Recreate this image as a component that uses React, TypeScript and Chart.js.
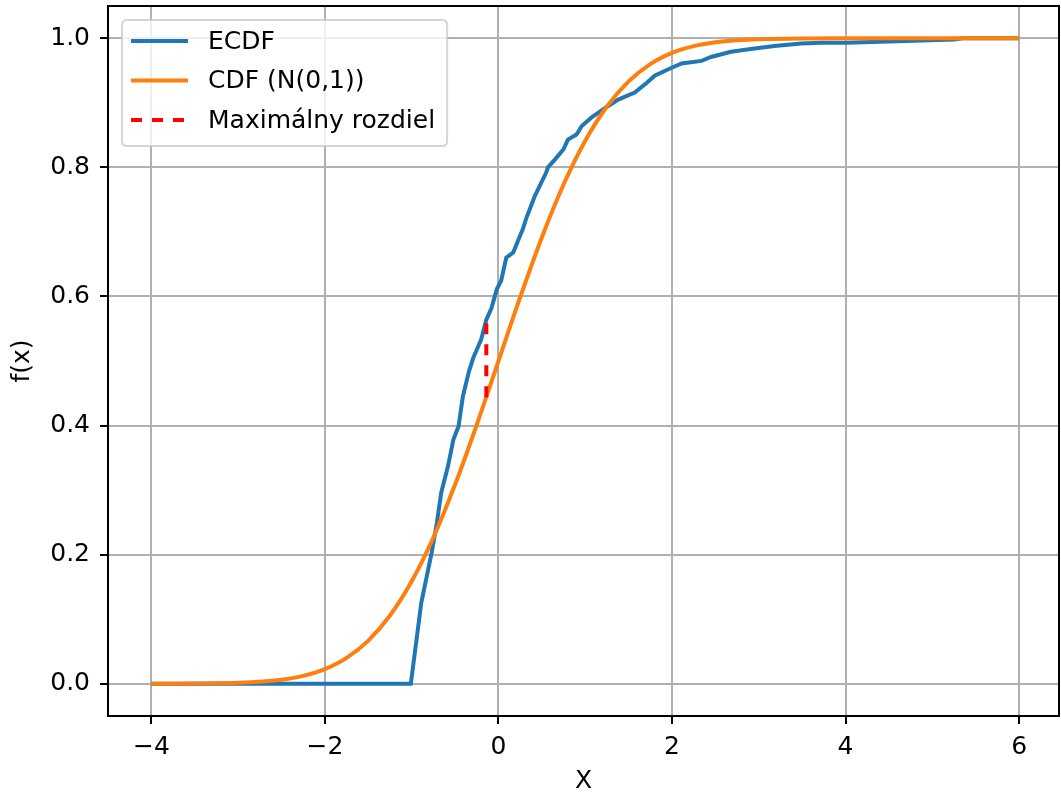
import React, { useEffect, useRef } from "react";
import { Chart, registerables } from "chart.js";

Chart.register(...registerables);

// ECDF of the sample
const ecdfX = [-4, -1.01, -0.89, -0.77, -0.71, -0.66, -0.58, -0.52, -0.46, -0.41, -0.34, -0.29, -0.2, -0.14, -0.08, -0.02, 0.03, 0.09, 0.17, 0.23, 0.28, 0.32, 0.42, 0.55, 0.57, 0.65, 0.75, 0.8, 0.9, 0.96, 1.07, 1.23, 1.38, 1.57, 1.71, 1.8, 1.99, 2.11, 2.34, 2.45, 2.68, 2.95, 3.18, 3.49, 3.72, 4.01, 4.79, 5.25, 5.35, 6];
const ecdfY = [0, 0, 0.125, 0.203, 0.249, 0.296, 0.338, 0.378, 0.399, 0.445, 0.484, 0.505, 0.533, 0.564, 0.582, 0.611, 0.624, 0.66, 0.668, 0.688, 0.704, 0.721, 0.756, 0.792, 0.8, 0.812, 0.828, 0.843, 0.851, 0.864, 0.877, 0.892, 0.905, 0.916, 0.931, 0.942, 0.954, 0.961, 0.965, 0.971, 0.979, 0.984, 0.988, 0.992, 0.993, 0.993, 0.996, 0.998, 1.0, 1.0];

// Normal CDF curve
const cdfX = [-4, -3.75, -3.5, -3.25, -3, -2.75, -2.5, -2.25, -2, -1.75, -1.5, -1.25, -1, -0.75, -0.5, -0.25, 0, 0.25, 0.5, 0.75, 1, 1.25, 1.5, 1.75, 2, 2.25, 2.5, 2.75, 3, 3.5, 4, 5, 6];
const cdfY = [0.00003, 0.00009, 0.00023, 0.00058, 0.00135, 0.00298, 0.00621, 0.01222, 0.02275, 0.04006, 0.06681, 0.10565, 0.15866, 0.22663, 0.30854, 0.40129, 0.5, 0.59871, 0.69146, 0.77337, 0.84134, 0.89435, 0.93319, 0.95994, 0.97725, 0.98778, 0.99379, 0.99702, 0.99865, 0.99977, 0.99997, 1.0, 1.0];

// Maximum difference segment
const diffX = [-0.14, -0.14];
const diffY = [0.444, 0.566];

const seriesLabels = ["ECDF", "CDF (N(0,1))", "Maximálny rozdiel"];
const xTicks = [-4, -2, 0, 2, 4, 6];
const yTicks = [0, 0.2, 0.4, 0.6, 0.8, 1.0];
const xTitle = "X";
const yTitle = "f(x)";

const FONT = "'DejaVu Sans', sans-serif";
const FS = 25;

const fmt = (v: number, d: number) => {
  const s = Math.abs(v).toFixed(d);
  return v < -1e-9 ? "\u2212" + s : s;
};

const toPts = (xs: number[], ys: number[]) => xs.map((x, i) => ({ x, y: ys[i] }));

const framePlugin = {
  id: "frame",
  afterDatasetsDraw(chart: any) {
    const { ctx, chartArea: a } = chart;
    ctx.save();
    ctx.strokeStyle = "#000";
    ctx.lineWidth = 2;
    ctx.strokeRect(a.left, a.top, a.right - a.left, a.bottom - a.top);
    ctx.restore();
  },
};

const legendPlugin = {
  id: "mplLegend",
  afterDraw(chart: any) {
    const { ctx, chartArea: a } = chart;
    const ds = chart.data.datasets;
    const x0 = a.left + 14;
    const y0 = a.top + 14;
    ctx.save();
    ctx.font = `${FS}px ${FONT}`;
    const maxW = Math.max(...ds.map((d: any) => ctx.measureText(d.label).width));
    const textX = x0 + 86;
    const w = textX - x0 + maxW + 12;
    const h = 126;
    const r = 5;
    ctx.beginPath();
    ctx.moveTo(x0 + r, y0);
    ctx.lineTo(x0 + w - r, y0);
    ctx.quadraticCurveTo(x0 + w, y0, x0 + w, y0 + r);
    ctx.lineTo(x0 + w, y0 + h - r);
    ctx.quadraticCurveTo(x0 + w, y0 + h, x0 + w - r, y0 + h);
    ctx.lineTo(x0 + r, y0 + h);
    ctx.quadraticCurveTo(x0, y0 + h, x0, y0 + h - r);
    ctx.lineTo(x0, y0 + r);
    ctx.quadraticCurveTo(x0, y0, x0 + r, y0);
    ctx.closePath();
    ctx.fillStyle = "rgba(255,255,255,0.8)";
    ctx.fill();
    ctx.strokeStyle = "rgba(204,204,204,0.8)";
    ctx.lineWidth = 2;
    ctx.stroke();
    ds.forEach((d: any, i: number) => {
      const y = y0 + 21 + i * 39.5;
      ctx.beginPath();
      ctx.setLineDash(d.borderDash || []);
      ctx.strokeStyle = d.borderColor;
      ctx.lineWidth = d.borderWidth;
      ctx.lineCap = "butt";
      ctx.moveTo(x0 + 9, y);
      ctx.lineTo(x0 + 66, y);
      ctx.stroke();
      ctx.setLineDash([]);
      ctx.fillStyle = "#000";
      ctx.textAlign = "left";
      ctx.textBaseline = "middle";
      ctx.fillText(d.label, textX, y + 1);
    });
    ctx.restore();
  },
};

export default function App() {
  const ref = useRef<HTMLCanvasElement | null>(null);
  useEffect(() => {
    document.body.style.margin = "0";
    const canvas = ref.current!;
    const chart = new Chart(canvas, {
      type: "line",
      data: {
        datasets: [
          {
            label: seriesLabels[0],
            data: toPts(ecdfX, ecdfY),
            borderColor: "#1f77b4",
            backgroundColor: "#1f77b4",
            borderWidth: 4,
            pointRadius: 0,
            tension: 0,
            order: 3,
          },
          {
            label: seriesLabels[1],
            data: toPts(cdfX, cdfY),
            borderColor: "#ff7f0e",
            backgroundColor: "#ff7f0e",
            borderWidth: 4,
            pointRadius: 0,
            cubicInterpolationMode: "monotone",
            order: 2,
          },
          {
            label: seriesLabels[2],
            data: toPts(diffX, diffY),
            borderColor: "#ff0000",
            backgroundColor: "#ff0000",
            borderWidth: 4,
            borderDash: [11, 10],
            pointRadius: 0,
            order: 1,
          },
        ],
      },
      options: {
        animation: false,
        responsive: false,
        devicePixelRatio: 1,
        layout: { padding: { top: 6, right: 2, left: 0, bottom: 0 } },
        plugins: { legend: { display: false }, tooltip: { enabled: false } },
        scales: {
          x: {
            type: "linear",
            min: -4.5,
            max: 6.46,
            afterBuildTicks: (s: any) => {
              s.ticks = xTicks.map((v) => ({ value: v }));
            },
            afterFit: (s: any) => {
              s.height = 80;
              s.paddingLeft = 0;
              s.paddingRight = 0;
            },
            ticks: {
              autoSkip: false,
              maxRotation: 0,
              color: "#000",
              font: { family: FONT, size: FS },
              padding: 8,
              callback: (v: any) => fmt(Number(v), 0),
            },
            grid: {
              color: "#b0b0b0",
              lineWidth: 2,
              tickColor: "#000",
              tickWidth: 2,
              tickLength: 8,
            },
            border: { display: false },
            title: {
              display: true,
              text: xTitle,
              color: "#000",
              font: { family: FONT, size: FS },
              padding: { top: 0, bottom: 0 },
            },
          },
          y: {
            type: "linear",
            min: -0.05,
            max: 1.05,
            afterBuildTicks: (s: any) => {
              s.ticks = yTicks.map((v) => ({ value: v }));
            },
            afterFit: (s: any) => {
              s.width = 108;
              s.paddingTop = 0;
              s.paddingBottom = 0;
            },
            ticks: {
              color: "#000",
              font: { family: FONT, size: FS },
              padding: 10,
              callback: (v: any) => fmt(Number(v), 1),
            },
            grid: {
              color: "#b0b0b0",
              lineWidth: 2,
              tickColor: "#000",
              tickWidth: 2,
              tickLength: 8,
            },
            border: { display: false },
            title: {
              display: true,
              text: yTitle,
              color: "#000",
              font: { family: FONT, size: FS },
              padding: { top: 7, bottom: 0 },
            },
          },
        },
      },
      plugins: [framePlugin, legendPlugin],
    } as any);
    return () => chart.destroy();
  }, []);
  return (
    <div style={{ position: "fixed", left: 0, top: 0, width: 1061, height: 796, background: "#fff" }}>
      <canvas ref={ref} width={1061} height={796} style={{ width: 1061, height: 796 }} />
    </div>
  );
}
